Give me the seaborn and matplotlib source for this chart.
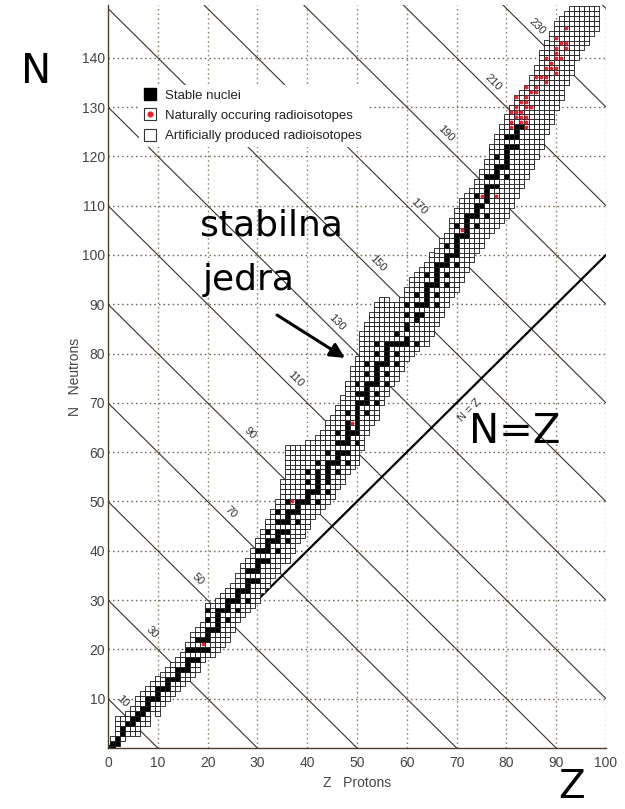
import matplotlib
matplotlib.use("Agg")
import matplotlib.pyplot as plt
import seaborn as sns
import pandas as pd
from matplotlib.lines import Line2D

# proton number Z, with the lowest and highest neutron number N drawn for it
z_values = list(range(1, 99))
n_lowest = [0, 1, 2, 3, 3, 3, 5, 5, 8, 7,
            9, 10, 11, 12, 13, 14, 15, 16, 18, 19,
            19, 20, 21, 22, 24, 26, 27, 28, 29, 30,
            32, 33, 35, 36, 38, 38, 40, 42, 43, 45,
            47, 48, 49, 50, 51, 53, 54, 56, 57, 58,
            61, 64, 66, 67, 70, 72, 74, 75, 77, 79,
            80, 81, 82, 82, 84, 86, 88, 90, 92, 93,
            95, 97, 99, 101, 102, 104, 105, 106, 107, 108,
            110, 112, 114, 116, 118, 120, 122, 125, 127, 130,
            132, 135, 137, 140, 142, 143, 145, 146]
n_highest = [2, 6, 6, 7, 8, 10, 11, 12, 13, 14,
             15, 16, 17, 18, 19, 21, 23, 24, 25, 29,
             29, 30, 31, 32, 33, 35, 37, 38, 40, 42,
             44, 46, 48, 50, 54, 61, 61, 61, 61, 62,
             62, 63, 64, 66, 67, 69, 71, 74, 77, 79,
             84, 86, 88, 90, 91, 91, 90, 90, 91, 93,
             95, 96, 97, 98, 100, 101, 103, 104, 107, 109,
             111, 112, 113, 115, 117, 119, 122, 124, 126, 128,
             130, 132, 133, 134, 136, 138, 141, 143, 145, 147,
             148, 149, 150, 150, 150, 150, 150, 150]

# stable isotopes: Z -> neutron numbers
stable_n = {
    1: [0, 1], 2: [1, 2], 3: [3, 4], 4: [5], 5: [5, 6], 6: [6, 7], 7: [7, 8],
    8: [8, 9, 10], 9: [10], 10: [10, 11, 12], 11: [12], 12: [12, 13, 14],
    13: [14], 14: [14, 15, 16], 15: [16], 16: [16, 17, 18, 20], 17: [18, 20],
    18: [18, 20, 22], 19: [20, 22], 20: [20, 22, 23, 24, 26, 28], 21: [24],
    22: [24, 25, 26, 27, 28], 23: [28], 24: [26, 28, 29, 30], 25: [30],
    26: [28, 30, 31, 32], 27: [32], 28: [30, 32, 33, 34, 36], 29: [34, 36],
    30: [34, 36, 37, 38, 40], 31: [38, 40], 32: [38, 40, 41, 42, 44], 33: [42],
    34: [40, 42, 43, 44, 46, 48], 35: [44, 46], 36: [42, 44, 46, 47, 48, 50],
    37: [48], 38: [46, 48, 49, 50], 39: [50], 40: [50, 51, 52, 54, 56],
    41: [52], 42: [50, 52, 53, 54, 55, 56, 58], 44: [52, 54, 55, 56, 57, 58, 60],
    45: [58], 46: [56, 58, 59, 60, 62, 64], 47: [60, 62],
    48: [58, 60, 62, 63, 64, 65, 66, 68], 49: [64],
    50: [62, 64, 65, 66, 67, 68, 69, 70, 72, 74], 51: [70, 72],
    52: [68, 70, 71, 72, 73, 74, 76, 78], 53: [74],
    54: [70, 72, 74, 75, 76, 77, 78, 80, 82], 55: [78],
    56: [74, 76, 78, 79, 80, 81, 82], 57: [82], 58: [78, 80, 82, 84], 59: [82],
    60: [82, 83, 85, 86, 88, 90], 62: [82, 87, 88, 90, 92], 63: [88, 90],
    64: [90, 91, 92, 93, 94, 96], 65: [94], 66: [90, 92, 94, 95, 96, 97, 98],
    67: [98], 68: [94, 96, 98, 99, 100, 102], 69: [100],
    70: [98, 100, 101, 102, 103, 104, 106], 71: [104],
    72: [104, 105, 106, 107, 108], 73: [108], 74: [106, 108, 109, 110, 112],
    75: [110], 76: [108, 111, 112, 113, 114, 116], 77: [114, 116],
    78: [114, 116, 117, 118, 120], 79: [118], 80: [116, 118, 119, 120, 121, 122, 124],
    81: [122, 124], 82: [122, 124, 125, 126], 83: [126],
}

# naturally occurring radioisotopes (Z, N)
natural_radio = [
    (19, 21), (37, 50), (49, 66), (71, 105), (75, 112), (78, 112),
    (81, 126), (81, 127), (81, 129), (82, 128), (82, 129), (82, 130), (82, 132),
    (83, 127), (83, 128), (83, 129), (83, 131), (84, 126), (84, 127), (84, 128),
    (84, 130), (84, 131), (84, 132), (84, 134), (85, 130), (85, 133),
    (86, 133), (86, 134), (86, 136), (87, 136), (88, 135), (88, 136), (88, 138),
    (88, 140), (89, 138), (89, 139), (90, 137), (90, 138), (90, 140), (90, 141),
    (90, 142), (90, 144), (91, 140), (91, 143), (92, 142), (92, 143), (92, 146),
]

# lines of constant mass number A = Z + N and where their labels sit
isobar_a = [10, 30, 50, 70, 90, 110, 130, 150, 170, 190, 210, 230, 250]
label_a = [10, 30, 50, 70, 90, 110, 130, 150, 170, 190, 210, 230]
label_z = [2.9, 8.9, 18.1, 24.6, 28.5, 37.6, 46.0, 54.1, 62.5, 67.8, 77.4, 86.1]

x_ticks = list(range(0, 101, 10))
y_ticks = list(range(10, 141, 10))

# build the table of cells
rows = []
nat_set = set(natural_radio)
for z, lo, hi in zip(z_values, n_lowest, n_highest):
    ns = set(range(lo, hi + 1)) | set(stable_n.get(z, []))
    ns |= {n for (zz, n) in natural_radio if zz == z}
    for n in sorted(ns):
        if n in stable_n.get(z, []):
            kind = "stable"
        elif (z, n) in nat_set:
            kind = "natural"
        else:
            kind = "artificial"
        rows.append({"Z": z, "N": n, "kind": kind})
cells = pd.DataFrame(rows)

sns.set_style("white")
plt.rcParams["font.family"] = ["Liberation Sans", "DejaVu Sans"]

W, H = 625, 809
fig = plt.figure(figsize=(W / 100, H / 100), dpi=100)
ax = fig.add_axes([108 / W, (H - 748) / H, 498 / W, 743 / H])
ax.set_xlim(0, 100)
ax.set_ylim(0, 150.7)

grid_col = "#8c7c62"
for x in x_ticks[1:]:
    ax.axvline(x, color=grid_col, lw=1.0, ls=(0, (1.1, 2.2)), zorder=1)
for y in y_ticks:
    ax.axhline(y, color="#6e6450", lw=1.0, ls=(0, (1.1, 2.2)), zorder=1)

line_col = "#3b3226"
for a in isobar_a:
    ax.plot([0, a], [a, 0], color=line_col, lw=0.8, zorder=2)
for a, z in zip(label_a, label_z):
    ax.text(z, a + 2.4 - z, str(a), rotation=-45, ha="center", va="center",
            fontsize=8, color="#333333", zorder=2)

ax.plot([0, 100], [0, 100], color="black", lw=1.6, zorder=2)
ax.text(72.6, 68.6, "N = Z", rotation=45, ha="center", va="center",
        fontsize=8, color="#333333", zorder=2)

cell_size = (498 / 100 * 0.72) ** 2
sns.scatterplot(data=cells, x="Z", y="N", hue="kind",
                hue_order=["artificial", "natural", "stable"],
                palette={"artificial": "white", "natural": "white", "stable": "black"},
                marker="s", s=cell_size, edgecolor="#1a1a1a", linewidth=0.6,
                legend=False, ax=ax, zorder=3)
sns.scatterplot(data=cells[cells["kind"] == "natural"], x="Z", y="N",
                color="#f0202c", marker="o", s=8, linewidth=0,
                legend=False, ax=ax, zorder=4)

for side in ["top", "right"]:
    ax.spines[side].set_visible(False)
for side in ["left", "bottom"]:
    ax.spines[side].set_color("#4b3f30")
    ax.spines[side].set_linewidth(1.0)

ax.set_xticks(x_ticks)
ax.set_yticks(y_ticks)
ax.tick_params(axis="both", length=0, labelsize=10, labelcolor="#444444")
ax.tick_params(axis="x", pad=6)
ax.tick_params(axis="y", pad=2)
ax.set_xlabel("Z   Protons", fontsize=10, color="#444444", labelpad=4)
ax.set_ylabel("N   Neutrons", fontsize=10, color="#444444", labelpad=0)

handles = [
    Line2D([], [], ls="", marker="s", ms=8, mfc="black", mec="black"),
    (Line2D([], [], ls="", marker="s", ms=8, mfc="white", mec="#333333", mew=0.8),
     Line2D([], [], ls="", marker="o", ms=3.4, mfc="#f0202c", mec="#f0202c")),
    Line2D([], [], ls="", marker="s", ms=8, mfc="white", mec="#333333", mew=0.8),
]
labels = ["Stable nuclei", "Naturally occuring radioisotopes",
          "Artificially produced radioisotopes"]
leg = ax.legend(handles, labels, loc="upper left",
                bbox_to_anchor=((139 - 108) / 498, (748 - 85) / 743),
                borderaxespad=0, borderpad=0.35, frameon=True, framealpha=1,
                facecolor="white", edgecolor="white", fontsize=9.5,
                handlelength=0.9, handletextpad=0.75, labelspacing=0.6)
leg.get_frame().set_linewidth(0)
for t in leg.get_texts():
    t.set_color("#222222")

# slide annotations
big = dict(family="DejaVu Sans", color="black")
fig.text(21 / W, 1 - 83 / H, "N", fontsize=29, ha="left", va="baseline", **big)
fig.text(558 / W, 1 - 798 / H, "Z", fontsize=28, ha="left", va="baseline", **big)
fig.text(469 / W, 1 - 443 / H, "N=Z", fontsize=29, ha="left", va="baseline", **big)
fig.text(200 / W, 1 - 235 / H, "stabilna", fontsize=26, ha="left", va="baseline", **big)
fig.text(203 / W, 1 - 290 / H, "jedra", fontsize=26, ha="left", va="baseline", **big)
ax.annotate("", xy=(345 / W, 1 - 358 / H), xytext=(277 / W, 1 - 315 / H),
            xycoords="figure fraction", textcoords="figure fraction",
            arrowprops=dict(arrowstyle="-|>", color="black", lw=2.2,
                            mutation_scale=22, shrinkA=0, shrinkB=0))

fig.savefig("out.png", dpi=100)
